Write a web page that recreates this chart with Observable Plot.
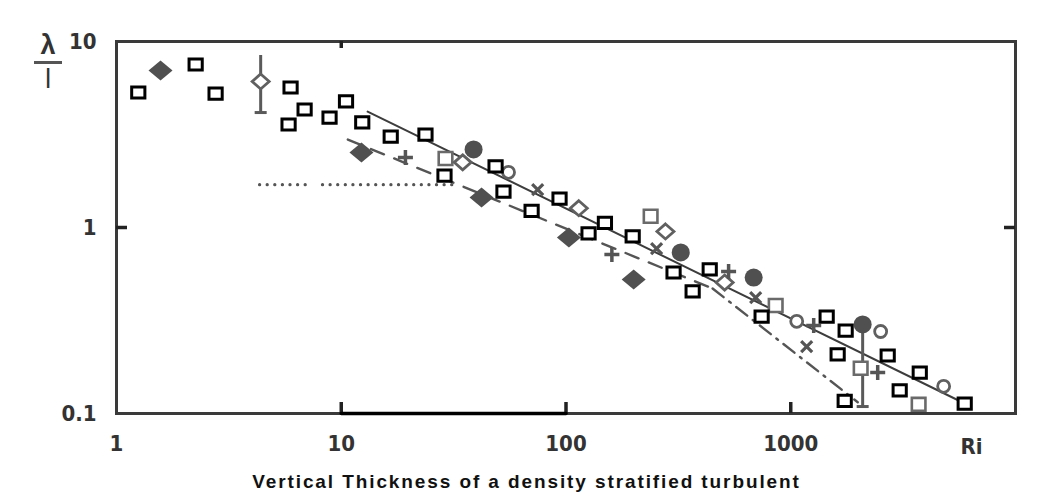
<!DOCTYPE html>
<html>
<head>
<meta charset="utf-8">
<script src="https://cdn.jsdelivr.net/npm/d3@7"></script>
<script src="https://cdn.jsdelivr.net/npm/@observablehq/plot@0.6"></script>
<style>
  html, body { margin: 0; padding: 0; background: #fff; }
  #wrap { position: relative; width: 1053px; height: 499px; font-family: "Liberation Sans", Arial, sans-serif; }
  #ylab { position: absolute; left: 34px; top: 31px; width: 28px; text-align: center; font-weight: bold; color: #333; }
  #ylab .num { font-size: 27px; line-height: 28px; border-bottom: 3px solid #555; padding-bottom: 2px; }
  #ylab .den { font-size: 26px; line-height: 30px; font-family: "DejaVu Sans", sans-serif; font-weight: normal; }
  #cap { position: absolute; left: 0; width: 1053px; top: 471px; text-align: center; font-weight: bold; font-size: 19px; letter-spacing: 1.9px; color: #111; }
</style>
</head>
<body>
<div id="wrap">
  <div id="chart"></div>
  <div id="ylab"><div class="num">λ</div><div class="den">l</div></div>
  <div id="cap">Vertical Thickness of a density stratified turbulent</div>
</div>
<script>
// ---- data (Ri, λ/l) ----
const xTicks = [1, 10, 100, 1000];
const yTicks = [0.1, 1, 10];
const xInnerTicks = [10, 100, 1000];
const topInnerTicks = [10];
const yInnerTicks = [1];
const xLabel = "Ri";

const openSquares = [
  [1.25, 5.32], [2.25, 7.52], [2.76, 5.25], [5.95, 5.66], [6.87, 4.31], [5.83, 3.58],
  [8.87, 3.90], [10.5, 4.76], [12.4, 3.67], [16.6, 3.08], [23.7, 3.16], [28.8, 1.90],
  [48.6, 2.13], [52.7, 1.56], [70.3, 1.23], [93.6, 1.43], [126, 0.93], [149, 1.06],
  [198, 0.895], [301, 0.573], [436, 0.595], [366, 0.453], [742, 0.332], [1445, 0.332],
  [1755, 0.279], [1617, 0.208], [2700, 0.205], [3750, 0.166], [3053, 0.133], [1738, 0.117],
  [5943, 0.113]
];
const graySquares = [[29.1, 2.35], [238, 1.15], [857, 0.381], [2047, 0.175], [3707, 0.112]];
const filledDiamonds = [[1.57, 6.98], [12.3, 2.53], [42.1, 1.45], [103, 0.884], [200, 0.525]];
const openDiamonds = [[4.38, 6.10], [34.7, 2.24], [114, 1.27], [277, 0.952], [508, 0.506]];
const filledCircles = [[38.8, 2.63], [324, 0.734], [684, 0.538], [2089, 0.301]];
const openCircles = [[55.5, 1.98], [1063, 0.313], [2512, 0.276], [4790, 0.140]];
const plusMarks = [[19.3, 2.38], [160, 0.716], [529, 0.580], [1265, 0.297], [2437, 0.166]];
const crossMarks = [[74.8, 1.60], [253, 0.771], [698, 0.420], [1177, 0.229]];
const errorBars = [
  {x: 4.38, lo: 4.15, hi: 8.41},
  {x: 2089, lo: 0.109, hi: 0.301}
];
const fitSolid = [[13.1, 4.2], [5702, 0.116]];
const fitDashed = [[10.7, 2.97], [200, 0.70], [449, 0.47]];
const fitDashDot = [[449, 0.47], [1986, 0.115]];
const dottedA = [[4.33, 1.70], [7.0, 1.70]];
const dottedB = [[8.25, 1.70], [31.3, 1.70]];
const bottomBar = [[10, 0.1], [100, 0.1]];

const xDomain = [1, 10000];
const yDomain = [0.1, 10];

// ---- layout ----
const W = 1053, H = 465, mL = 116, mR = 38, mT = 41, mB = 52;
const frameW = W - mL - mR, frameH = H - mT - mB, tickLen = 11;

// ---- custom symbols ----
const rectSym = (w, h) => ({draw(ctx) { ctx.moveTo(-w, -h); ctx.lineTo(w, -h); ctx.lineTo(w, h); ctx.lineTo(-w, h); ctx.closePath(); }});
const diamondSym = (w, h) => ({draw(ctx) { ctx.moveTo(0, -h); ctx.lineTo(w, 0); ctx.lineTo(0, h); ctx.lineTo(-w, 0); ctx.closePath(); }});
const plusSym = (a) => ({draw(ctx) { ctx.moveTo(-a, 0); ctx.lineTo(a, 0); ctx.moveTo(0, -a); ctx.lineTo(0, a); }});
const crossSym = (a) => ({draw(ctx) { ctx.moveTo(-a, -a); ctx.lineTo(a, a); ctx.moveTo(-a, a); ctx.lineTo(a, -a); }});
const hlineSym = (a) => ({draw(ctx) { ctx.moveTo(-a, 0); ctx.lineTo(a, 0); }});

const font = {fontSize: 22, fontWeight: "bold", fontFamily: "'Liberation Sans Narrow', 'DejaVu Sans Condensed', 'Liberation Sans', sans-serif"};

const chart = Plot.plot({
  width: W,
  height: H,
  marginLeft: mL,
  marginRight: mR,
  marginTop: mT,
  marginBottom: mB,
  style: {background: "#fff", overflow: "visible"},
  x: {type: "log", domain: xDomain},
  y: {type: "log", domain: yDomain},
  marks: [
    // tick labels
    Plot.axisX(xTicks, {anchor: "bottom", tickSize: 0, tickPadding: 22, tickFormat: d3.format(""), fill: "#333", label: null, ...font}),
    Plot.axisY(yTicks, {anchor: "left", tickSize: 0, tickPadding: 20, tickFormat: d3.format(""), fill: "#333", label: null, ...font}),
    Plot.text([xLabel], {frameAnchor: "bottom-right", dx: -44, dy: 33, textAnchor: "middle", lineAnchor: "middle", fill: "#333", ...font}),
    // lines
    Plot.line(dottedA, {x: d => d[0], y: d => d[1], stroke: "#555", strokeWidth: 3.2, strokeDasharray: "0.1,7.5", strokeLinecap: "round"}),
    Plot.line(dottedB, {x: d => d[0], y: d => d[1], stroke: "#555", strokeWidth: 3.2, strokeDasharray: "0.1,7.5", strokeLinecap: "round"}),
    Plot.line(fitSolid, {x: d => d[0], y: d => d[1], stroke: "#3d3d3d", strokeWidth: 2}),
    Plot.line(fitDashed, {x: d => d[0], y: d => d[1], stroke: "#555", strokeWidth: 2.4, strokeDasharray: "14,11"}),
    Plot.line(fitDashDot, {x: d => d[0], y: d => d[1], stroke: "#555", strokeWidth: 2.4, strokeDasharray: "14,7,2,7"}),
    // error bars
    Plot.ruleX(errorBars, {x: "x", y1: "lo", y2: "hi", stroke: "#5a5a5a", strokeWidth: 3}),
    Plot.dot(errorBars, {x: "x", y: "lo", r: 4, symbol: hlineSym(6), stroke: "#5a5a5a", strokeWidth: 3, fill: "none"}),
    // markers
    Plot.dot(graySquares, {x: d => d[0], y: d => d[1], r: 5, symbol: rectSym(6.8, 6.5), stroke: "#6a6a6a", strokeWidth: 2.6, fill: "#fff"}),
    Plot.dot(openDiamonds, {x: d => d[0], y: d => d[1], r: 5, symbol: diamondSym(8.5, 7.5), stroke: "#606060", strokeWidth: 2.8, fill: "#fff"}),
    Plot.dot(openCircles, {x: d => d[0], y: d => d[1], r: 6, stroke: "#606060", strokeWidth: 2.8, fill: "#fff"}),
    Plot.dot(filledCircles, {x: d => d[0], y: d => d[1], r: 9, fill: "#505050"}),
    Plot.dot(filledDiamonds, {x: d => d[0], y: d => d[1], r: 5, symbol: diamondSym(12, 10), fill: "#505050"}),
    Plot.dot(plusMarks, {x: d => d[0], y: d => d[1], r: 5, symbol: plusSym(7.5), stroke: "#555", strokeWidth: 3.5, fill: "none"}),
    Plot.dot(crossMarks, {x: d => d[0], y: d => d[1], r: 5, symbol: crossSym(5.5), stroke: "#555", strokeWidth: 3.2, fill: "none"}),
    Plot.dot(openSquares, {x: d => d[0], y: d => d[1], r: 5, symbol: rectSym(6.6, 5.6), stroke: "#000", strokeWidth: 3, fill: "#fff"}),
    // frame, inward ticks and bottom bar
    Plot.frame({stroke: "#3a3a3a", strokeWidth: 3}),
    Plot.ruleX(xInnerTicks, {x: d => d, insetTop: frameH - tickLen, stroke: "#222", strokeWidth: 3.5}),
    Plot.ruleX(topInnerTicks, {x: d => d, insetBottom: frameH - 7, stroke: "#222", strokeWidth: 3.5}),
    Plot.ruleY(yInnerTicks, {y: d => d, insetRight: frameW - tickLen, stroke: "#222", strokeWidth: 3.5}),
    Plot.ruleY(yInnerTicks, {y: d => d, insetLeft: frameW - tickLen, stroke: "#222", strokeWidth: 3.5}),
    Plot.line(bottomBar, {x: d => d[0], y: d => d[1], stroke: "#000", strokeWidth: 3.5})
  ]
});
document.getElementById("chart").appendChild(chart);
</script>
</body>
</html>
